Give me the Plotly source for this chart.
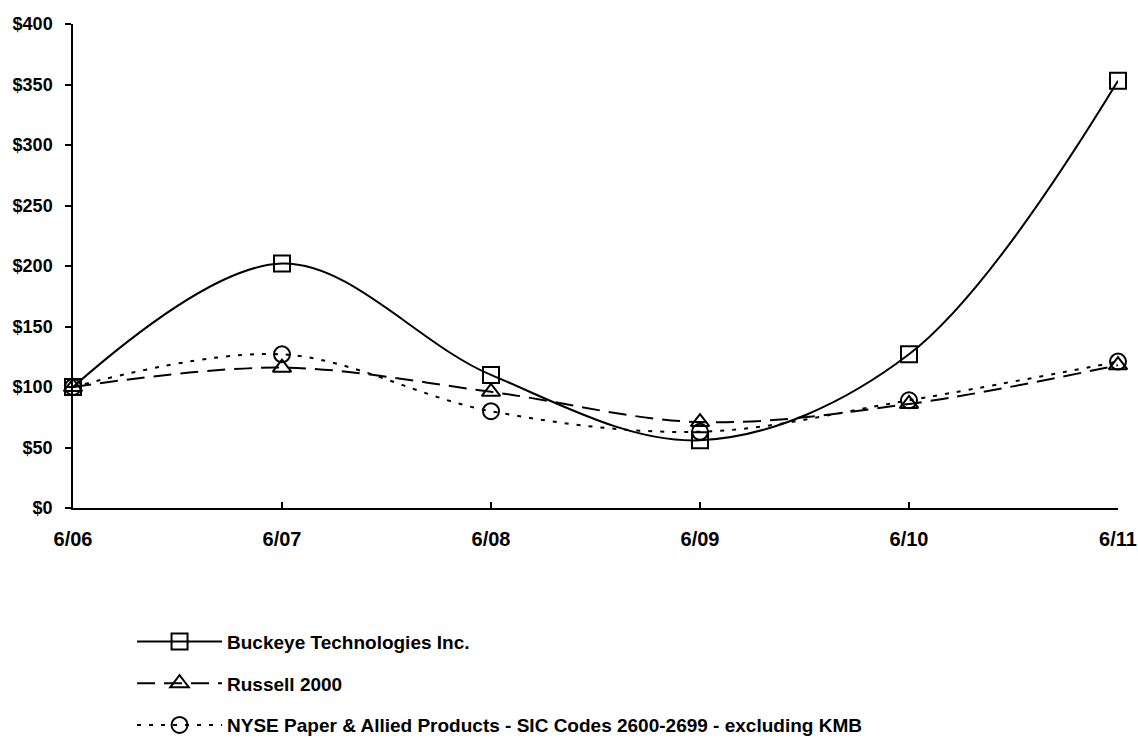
import plotly.graph_objects as go

periods = ["6/06", "6/07", "6/08", "6/09", "6/10", "6/11"]
buckeye = [100, 202, 110, 56, 127, 353]
russell = [100, 116, 96, 71, 86, 118]
nyse = [100, 127, 80, 63, 89, 121]
y_ticks = [0, 50, 100, 150, 200, 250, 300, 350, 400]
y_labels = ["$" + str(v) for v in y_ticks]

names = [
    "Buckeye Technologies Inc.",
    "Russell 2000",
    "NYSE Paper & Allied Products - SIC Codes 2600-2699 - excluding KMB",
]

xs = list(range(len(periods)))
FONT = "Liberation Sans, Arial, sans-serif"

fig = go.Figure()
series = [
    (buckeye, "solid", "square-open", names[0]),
    (russell, "18px,9px", "triangle-up-open", names[1]),
    (nyse, "4px,8px", "circle-open", names[2]),
]
for i, (vals, dash, sym, nm) in enumerate(series):
    fig.add_trace(go.Scatter(
        x=xs, y=vals, name=nm, mode="lines+markers",
        line=dict(color="black", width=2, dash=dash, shape="spline", smoothing=1.0),
        marker=dict(symbol=sym, size=16, color="black", line=dict(width=2, color="black")),
        cliponaxis=False, legendgroup=f"g{i}",
    ))

fig.update_layout(
    width=1138, height=746,
    margin=dict(l=73, r=20, t=24, b=238, autoexpand=False),
    paper_bgcolor="white", plot_bgcolor="white",
    font=dict(family=FONT, color="black", size=18, weight="bold"),
    showlegend=True,
    legend=dict(
        x=0.0565, y=-0.237, xanchor="left", yanchor="top",
        font=dict(family=FONT, size=19, weight="bold", color="black"),
        tracegroupgap=14, itemwidth=85, bgcolor="rgba(0,0,0,0)",
    ),
    xaxis=dict(
        range=[0, 5], tickmode="array", tickvals=xs, ticktext=periods,
        showline=True, linecolor="black", linewidth=1.5, showgrid=False, zeroline=False,
        ticks="inside", ticklen=6, tickcolor="black", tickwidth=1.5,
        tickfont=dict(family=FONT, size=20, weight="bold"),
        ticklabelstandoff=12, ticklabeloverflow="allow",
    ),
    yaxis=dict(
        range=[0, 400], tickmode="array", tickvals=y_ticks, ticktext=y_labels,
        showline=True, linecolor="black", linewidth=1.5, showgrid=False, zeroline=False,
        ticks="outside", ticklen=6, tickcolor="black", tickwidth=1.5,
        tickfont=dict(family=FONT, size=18, weight="bold"),
        ticklabelstandoff=9,
    ),
)

fig.write_html(
    "out.html",
    config={"displayModeBar": False},
    post_script="document.body.style.margin='0';document.body.style.overflow='hidden';",
)
